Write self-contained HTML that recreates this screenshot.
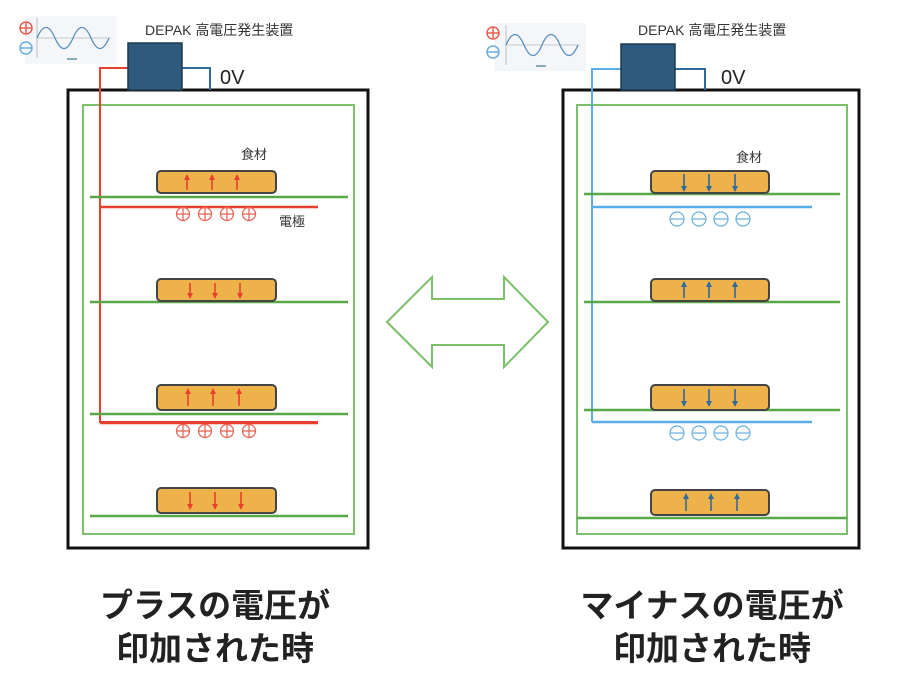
<!DOCTYPE html>
<html><head><meta charset="utf-8"><style>
html,body{margin:0;padding:0;background:#fff;}
svg text{font-family:"Liberation Sans","Noto Sans CJK JP",sans-serif;}
</style></head><body>
<svg width="908" height="690" viewBox="0 0 908 690" xmlns="http://www.w3.org/2000/svg">
<defs>
<marker id="ar" markerUnits="userSpaceOnUse" markerWidth="6" markerHeight="6" refX="4" refY="3" orient="auto"><path d="M0,0 L6,3 L0,6 z" fill="#e8402f"/></marker>
<marker id="ab" markerUnits="userSpaceOnUse" markerWidth="6" markerHeight="6" refX="4" refY="3" orient="auto"><path d="M0,0 L6,3 L0,6 z" fill="#2f6a9e"/></marker>
<g id="wave">
<rect x="0" y="0" width="92" height="48" fill="#f4f6fa"/>
<line x1="12" y1="2" x2="12" y2="42" stroke="#999" stroke-width="0.6"/>
<line x1="12" y1="22" x2="86" y2="22" stroke="#999" stroke-width="0.6"/>
<path d="M12,22 C18,8 24,8 30,22 S42,36 48,22 S60,8 66,22 S78,36 84,22" fill="none" stroke="#5a8fbf" stroke-width="1.3"/>
<rect x="42" y="42" width="10" height="2" fill="#8ab"/>
</g>
</defs>

<!-- LEFT PANEL -->
<use href="#wave" x="25" y="16"/>
<circle cx="26" cy="28" r="6" fill="none" stroke="#e8604f" stroke-width="1.5"/><path d="M20,28h12M26,22v12" stroke="#e8604f" stroke-width="1.5"/>
<circle cx="26" cy="48" r="6" fill="none" stroke="#6ab0e0" stroke-width="1.5"/><path d="M20,48h12" stroke="#6ab0e0" stroke-width="1.5"/>
<text x="145" y="35" font-size="14" fill="#333">DEPAK 高電圧発生装置</text>
<text x="220" y="84" font-size="20" fill="#222">0V</text>
<rect x="68" y="90" width="300" height="458" fill="none" stroke="#111" stroke-width="3"/>
<rect x="83" y="105" width="271" height="429" fill="none" stroke="#7cc06a" stroke-width="2"/>
<polyline points="182,68 210,68 210,90" fill="none" stroke="#2f6a9e" stroke-width="2"/>
<polyline points="128,68 100,68 100,422 318,422" fill="none" stroke="#e8402f" stroke-width="2"/>
<line x1="100" y1="207" x2="318" y2="207" stroke="#e8402f" stroke-width="2.5"/>
<line x1="100" y1="423" x2="318" y2="423" stroke="#e8402f" stroke-width="2.5"/>
<rect x="128" y="43" width="54" height="47" fill="#2e5a7d" stroke="#1d3a50" stroke-width="1.5"/>
<g stroke="#58a848" stroke-width="2.5">
<line x1="90" y1="197" x2="348" y2="197"/><line x1="90" y1="302" x2="348" y2="302"/>
<line x1="90" y1="414" x2="348" y2="414"/><line x1="90" y1="516" x2="348" y2="516"/></g>
<g fill="#eeb24a" stroke="#444" stroke-width="2">
<rect x="157" y="171" width="119" height="22" rx="4"/><rect x="157" y="279" width="119" height="22" rx="4"/>
<rect x="157" y="385" width="119" height="25" rx="4"/><rect x="157" y="488" width="119" height="25" rx="4"/></g>
<g stroke="#e8402f" stroke-width="1.6">
<line x1="187" y1="190" x2="187" y2="176" marker-end="url(#ar)"/><line x1="212" y1="190" x2="212" y2="176" marker-end="url(#ar)"/><line x1="237" y1="190" x2="237" y2="176" marker-end="url(#ar)"/>
<line x1="190" y1="283" x2="190" y2="297" marker-end="url(#ar)"/><line x1="215" y1="283" x2="215" y2="297" marker-end="url(#ar)"/><line x1="240" y1="283" x2="240" y2="297" marker-end="url(#ar)"/>
<line x1="188" y1="406" x2="188" y2="390" marker-end="url(#ar)"/><line x1="213" y1="406" x2="213" y2="390" marker-end="url(#ar)"/><line x1="239" y1="406" x2="239" y2="390" marker-end="url(#ar)"/>
<line x1="190" y1="492" x2="190" y2="508" marker-end="url(#ar)"/><line x1="215" y1="492" x2="215" y2="508" marker-end="url(#ar)"/><line x1="241" y1="492" x2="241" y2="508" marker-end="url(#ar)"/>
</g>
<g fill="none" stroke="#e8604f" stroke-width="1.2">
<circle cx="183" cy="214" r="6.5"/><circle cx="205" cy="214" r="6.5"/><circle cx="227" cy="214" r="6.5"/><circle cx="249" cy="214" r="6.5"/>
<path d="M177,214h12M183,208v12M199,214h12M205,208v12M221,214h12M227,208v12M243,214h12M249,208v12"/>
<circle cx="183" cy="431" r="6.5"/><circle cx="205" cy="431" r="6.5"/><circle cx="227" cy="431" r="6.5"/><circle cx="249" cy="431" r="6.5"/>
<path d="M177,431h12M183,425v12M199,431h12M205,425v12M221,431h12M227,425v12M243,431h12M249,425v12"/>
</g>
<text x="241" y="159" font-size="13" fill="#333">食材</text>
<text x="279" y="226" font-size="13" fill="#333">電極</text>

<!-- DOUBLE ARROW -->
<polygon points="387,322 432,277 432,299 504,299 504,277 548,322 504,367 504,345 432,345 432,367" fill="#fff" stroke="#7cc06a" stroke-width="2"/>

<!-- RIGHT PANEL -->
<use href="#wave" x="494" y="23"/>
<circle cx="493" cy="33" r="6" fill="none" stroke="#e8604f" stroke-width="1.5"/><path d="M487,33h12M493,27v12" stroke="#e8604f" stroke-width="1.5"/>
<circle cx="493" cy="52" r="6" fill="none" stroke="#6ab0e0" stroke-width="1.5"/><path d="M487,52h12" stroke="#6ab0e0" stroke-width="1.5"/>
<text x="638" y="35" font-size="14" fill="#333">DEPAK 高電圧発生装置</text>
<text x="721" y="84" font-size="20" fill="#222">0V</text>
<rect x="563" y="90" width="296" height="458" fill="none" stroke="#111" stroke-width="3"/>
<rect x="577" y="105" width="270" height="429" fill="none" stroke="#7cc06a" stroke-width="2"/>
<polyline points="675,69 705,69 705,90" fill="none" stroke="#2f6a9e" stroke-width="2"/>
<polyline points="621,69 592,69 592,422" fill="none" stroke="#5aaee6" stroke-width="2"/>
<line x1="592" y1="207" x2="812" y2="207" stroke="#5aaee6" stroke-width="2.5"/>
<line x1="592" y1="422" x2="812" y2="422" stroke="#5aaee6" stroke-width="2.5"/>
<rect x="621" y="44" width="54" height="46" fill="#2e5a7d" stroke="#1d3a50" stroke-width="1.5"/>
<g stroke="#58a848" stroke-width="2.5">
<line x1="584" y1="194" x2="840" y2="194"/><line x1="584" y1="302" x2="840" y2="302"/>
<line x1="584" y1="410" x2="840" y2="410"/><line x1="577" y1="518" x2="847" y2="518"/></g>
<g fill="#eeb24a" stroke="#444" stroke-width="2">
<rect x="651" y="171" width="118" height="22" rx="4"/><rect x="651" y="279" width="118" height="22" rx="4"/>
<rect x="651" y="385" width="118" height="25" rx="4"/><rect x="651" y="490" width="118" height="25" rx="4"/></g>
<g stroke="#2f6a9e" stroke-width="1.6">
<line x1="684" y1="174" x2="684" y2="190" marker-end="url(#ab)"/><line x1="709" y1="174" x2="709" y2="190" marker-end="url(#ab)"/><line x1="735" y1="174" x2="735" y2="190" marker-end="url(#ab)"/>
<line x1="684" y1="298" x2="684" y2="283" marker-end="url(#ab)"/><line x1="709" y1="298" x2="709" y2="283" marker-end="url(#ab)"/><line x1="735" y1="298" x2="735" y2="283" marker-end="url(#ab)"/>
<line x1="684" y1="389" x2="684" y2="405" marker-end="url(#ab)"/><line x1="709" y1="389" x2="709" y2="405" marker-end="url(#ab)"/><line x1="735" y1="389" x2="735" y2="405" marker-end="url(#ab)"/>
<line x1="686" y1="511" x2="686" y2="495" marker-end="url(#ab)"/><line x1="711" y1="511" x2="711" y2="495" marker-end="url(#ab)"/><line x1="737" y1="511" x2="737" y2="495" marker-end="url(#ab)"/>
</g>
<g fill="none" stroke="#6ab0e0" stroke-width="1.2">
<circle cx="677" cy="219" r="7"/><circle cx="699" cy="219" r="7"/><circle cx="721" cy="219" r="7"/><circle cx="743" cy="219" r="7"/>
<path d="M670,219h14M692,219h14M714,219h14M736,219h14"/>
<circle cx="677" cy="433" r="7"/><circle cx="699" cy="433" r="7"/><circle cx="721" cy="433" r="7"/><circle cx="743" cy="433" r="7"/>
<path d="M670,433h14M692,433h14M714,433h14M736,433h14"/>
</g>
<text x="736" y="162" font-size="13" fill="#333">食材</text>

<!-- CAPTIONS -->
<g font-size="33" font-weight="bold" fill="#222" text-anchor="middle">
<text x="215" y="617">プラスの電圧が</text>
<text x="215" y="660">印加された時</text>
<text x="712" y="617">マイナスの電圧が</text>
<text x="712" y="660">印加された時</text>
</g>
</svg>
</body></html>
